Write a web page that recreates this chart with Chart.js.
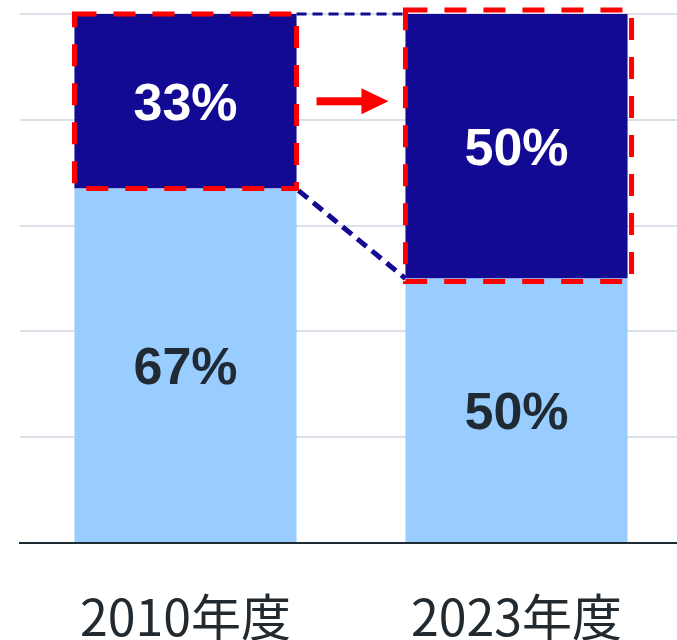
<!DOCTYPE html>
<html>
<head>
<meta charset="utf-8">
<script src="https://cdn.jsdelivr.net/npm/chart.js@4.4.1/dist/chart.umd.min.js"></script>
<style>
  html, body { margin: 0; padding: 0; background: #fff; overflow: hidden; }
  #wrap { width: 682px; height: 640px; }
</style>
</head>
<body>
<div id="wrap"><canvas id="shareChart" width="682" height="640"></canvas></div>
<script>
var years = ['2010年度', '2023年度'];
var lowerShare = [67, 50];
var upperShare = [33, 50];
var yTicks = [0, 20, 40, 60, 80, 100];

var darkBlue = '#130A94';
var lightBlue = '#99CCFF';

// labels inside each segment
var segmentLabels = {
	id: 'segmentLabels',
	afterDatasetsDraw: function (chart) {
		var ctx = chart.ctx;
		ctx.save();
		ctx.font = 'bold 52px "Liberation Sans", Arial, sans-serif';
		ctx.textAlign = 'center';
		ctx.textBaseline = 'middle';
		chart.data.datasets.forEach(function (ds, d) {
			chart.getDatasetMeta(d).data.forEach(function (bar, i) {
				var top = Math.min(bar.y, bar.base), bottom = Math.max(bar.y, bar.base);
				ctx.fillStyle = ds.labelColor;
				ctx.fillText(ds.data[i] + '%', bar.x, (top + bottom) / 2 + 4);
			});
		});
		ctx.restore();
	}
};

// red dashed frames, navy guide lines and arrow
var highlight = {
	id: 'highlight',
	afterDatasetsDraw: function (chart) {
		var ctx = chart.ctx;
		var a = chart.getDatasetMeta(1).data[0];
		var b = chart.getDatasetMeta(1).data[1];
		var ax1 = a.x - a.width / 2, ax2 = a.x + a.width / 2;
		var bx1 = b.x - b.width / 2, bx2 = b.x + b.width / 2;
		ctx.save();

		// navy guides
		ctx.strokeStyle = darkBlue;
		ctx.lineWidth = 3;
		ctx.setLineDash([10, 6]);
		ctx.beginPath();
		ctx.moveTo(ax2, a.y);
		ctx.lineTo(bx1, b.y);
		ctx.stroke();
		ctx.lineWidth = 5;
		ctx.setLineDash([12, 7]);
		ctx.beginPath();
		ctx.moveTo(ax2 + 2, a.base + 2);
		ctx.lineTo(bx1, b.base);
		ctx.stroke();

		// red frames
		ctx.strokeStyle = '#FF0000';
		ctx.lineWidth = 5;
		ctx.setLineDash([22, 17]);
		ctx.strokeRect(ax1, a.y, ax2 - ax1, a.base - a.y);
		ctx.strokeRect(bx1, b.y - 4, bx2 - bx1 + 4, b.base - b.y + 7);

		// arrow
		var ay = (a.y + a.base) / 2;
		var sx = ax2 + 20, hx = bx1 - 44, tx = bx1 - 17;
		ctx.setLineDash([]);
		ctx.fillStyle = '#FF0000';
		ctx.fillRect(sx, ay - 4, hx - sx + 2, 8);
		ctx.beginPath();
		ctx.moveTo(hx, ay - 13);
		ctx.lineTo(tx, ay);
		ctx.lineTo(hx, ay + 13);
		ctx.closePath();
		ctx.fill();
		ctx.restore();
	}
};

var ctx = document.getElementById('shareChart').getContext('2d');
var shareChart = new Chart(ctx, {
	type: 'bar',
	data: {
		labels: years,
		datasets: [
			{ label: 'lower', data: lowerShare, backgroundColor: lightBlue, labelColor: '#1F2A35' },
			{ label: 'upper', data: upperShare, backgroundColor: darkBlue, labelColor: '#FFFFFF' }
		]
	},
	plugins: [segmentLabels, highlight],
	options: {
		responsive: false,
		animation: false,
		layout: { padding: { left: 20, right: 0, top: 14, bottom: -51 } },
		plugins: { legend: { display: false }, tooltip: { enabled: false } },
		datasets: { bar: { categoryPercentage: 1, barPercentage: 0.671 } },
		scales: {
			x: {
				stacked: true,
				grid: { display: false, drawTicks: false },
				border: { display: true, color: '#1F2A30', width: 2 },
				ticks: {
					padding: 54,
					color: '#222A30',
					font: { family: '"Noto Sans CJK JP", "Noto Sans", sans-serif', size: 50, lineHeight: 0.8 }
				}
			},
			y: {
				stacked: true,
				min: 0,
				max: 100,
				afterBuildTicks: function (axis) {
					axis.ticks = yTicks.map(function (v) { return { value: v }; });
				},
				grid: { color: '#DDE0E8', lineWidth: 2, drawTicks: false },
				border: { display: false },
				ticks: { display: false }
			}
		}
	}
});
</script>
</body>
</html>
